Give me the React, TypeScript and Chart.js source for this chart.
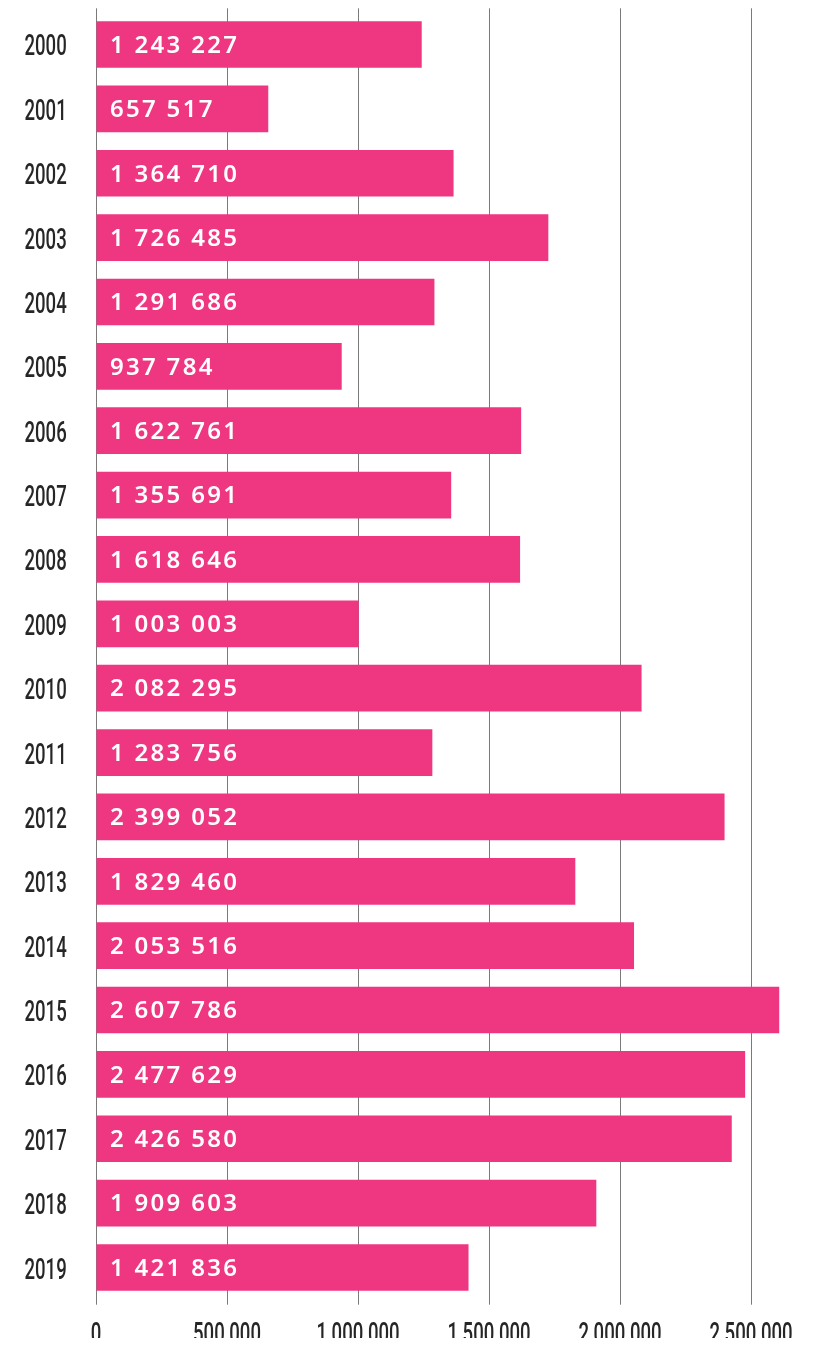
import React, { useEffect, useRef } from "react";
import { Chart, registerables } from "chart.js";

Chart.register(...registerables);

const years = [
  "2000", "2001", "2002", "2003", "2004", "2005", "2006", "2007", "2008", "2009",
  "2010", "2011", "2012", "2013", "2014", "2015", "2016", "2017", "2018", "2019",
];
const values = [
  1243227, 657517, 1364710, 1726485, 1291686, 937784, 1622761, 1355691, 1618646, 1003003,
  2082295, 1283756, 2399052, 1829460, 2053516, 2607786, 2477629, 2426580, 1909603, 1421836,
];
const xTickValues = [0, 500000, 1000000, 1500000, 2000000, 2500000];

const BAR_COLOR = "rgb(239, 54, 128)";
const GRID_COLOR = "#7a7a7a";
const TEXT_COLOR = "#262626";

const fmt = (v: number) => v.toString().replace(/\B(?=(\d{3})+(?!\d))/g, " ");

const labelsPlugin = {
  id: "customLabels",
  afterDatasetsDraw(chart: any) {
    const ctx = chart.ctx as CanvasRenderingContext2D;
    const meta = chart.getDatasetMeta(0);
    ctx.save();
    ctx.font = '600 24px "Noto Sans"';
    (ctx as any).letterSpacing = "2.3px";
    ctx.fillStyle = "#ffffff";
    ctx.textAlign = "left";
    ctx.textBaseline = "alphabetic";
    meta.data.forEach((bar: any, i: number) => {
      ctx.fillText(fmt(values[i]), bar.base + 13.5, bar.y + 8.3);
    });
    ctx.restore();
  },
  afterDraw(chart: any) {
    const ctx = chart.ctx as CanvasRenderingContext2D;
    const area = chart.chartArea;
    const yScale = chart.scales.y;
    const xScale = chart.scales.x;
    ctx.save();
    ctx.font = '500 29.5px Roboto';
    ctx.fillStyle = TEXT_COLOR;
    ctx.textBaseline = "alphabetic";
    ctx.textAlign = "right";
    years.forEach((yr, i) => {
      const py = yScale.getPixelForValue(i);
      ctx.save();
      ctx.translate(area.left - 29.3, py + 11);
      ctx.scale(0.63, 1);
      ctx.fillText(yr, 0, 0);
      ctx.restore();
    });
    ctx.textAlign = "center";
    xTickValues.forEach((v) => {
      const px = xScale.getPixelForValue(v);
      ctx.save();
      ctx.translate(px, area.bottom + 43.6);
      ctx.scale(0.63, 1);
      ctx.fillText(fmt(v), 0, 0);
      ctx.restore();
    });
    ctx.restore();
  },
};

const setTicks = (scale: any) => {
  scale.ticks = xTickValues.map((v) => ({ value: v }));
};

export default function App() {
  const ref = useRef<HTMLCanvasElement | null>(null);

  useEffect(() => {
    document.documentElement.style.overflow = "hidden";
    if (!ref.current) return;
    const xCommon = {
      type: "linear",
      min: 0,
      max: 2700000,
      afterBuildTicks: setTicks,
      ticks: { display: false },
      border: { display: false },
    };
    const chart = new Chart(ref.current, {
      type: "bar",
      data: {
        labels: years,
        datasets: [
          {
            data: values,
            backgroundColor: BAR_COLOR,
            borderWidth: 0,
            categoryPercentage: 1,
            barPercentage: 0.725,
          },
        ],
      },
      options: {
        indexAxis: "y",
        animation: false,
        responsive: false,
        layout: { padding: { left: 88, right: 16.6, top: 0.3, bottom: 41.3 } },
        plugins: { legend: { display: false }, tooltip: { enabled: false } },
        scales: {
          x: {
            ...xCommon,
            position: "bottom",
            grid: { display: true, color: GRID_COLOR, lineWidth: 1, drawTicks: true, tickLength: 5 },
          },
          x2: {
            ...xCommon,
            axis: "x",
            position: "top",
            grid: { display: true, color: GRID_COLOR, lineWidth: 1, drawTicks: true, tickLength: 4 },
          },
          y: {
            display: false,
          },
        },
      } as any,
      plugins: [labelsPlugin],
    });
    return () => chart.destroy();
  }, []);

  return (
    <div style={{ width: 812, height: 1338, marginBottom: -8 }}>
      <canvas ref={ref} width={812} height={1338} style={{ display: "block" }} />
    </div>
  );
}
